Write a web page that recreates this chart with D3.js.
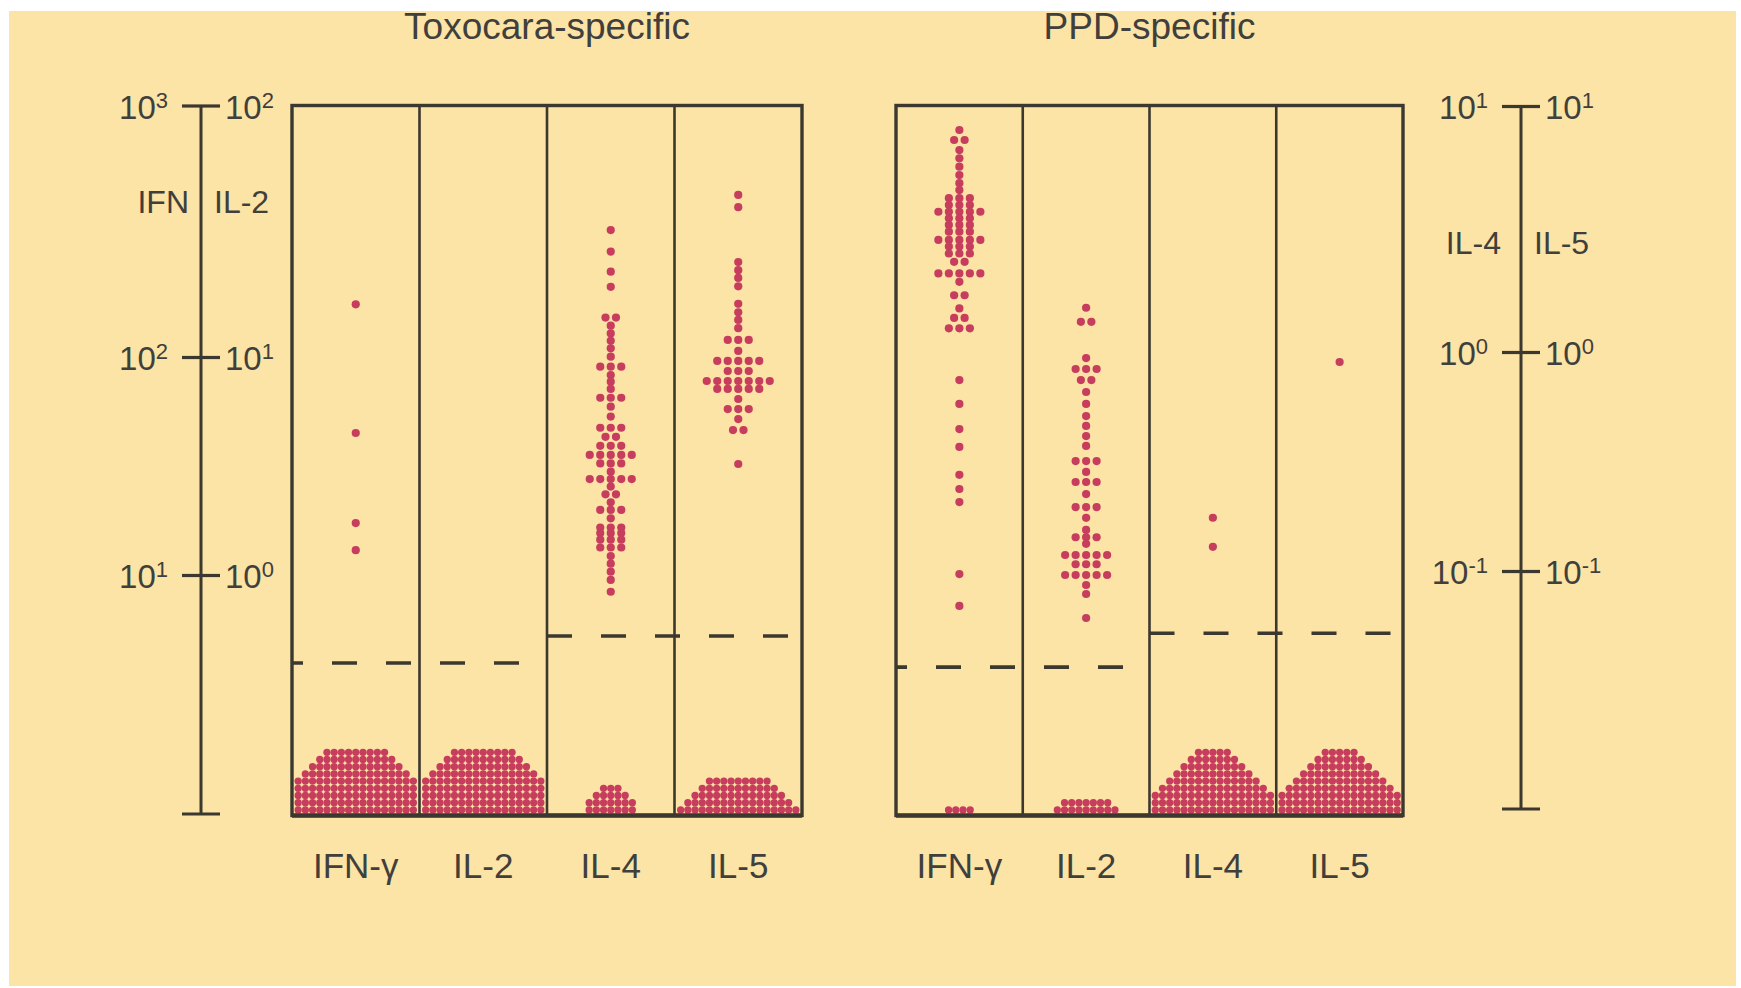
<!DOCTYPE html>
<html><head><meta charset="utf-8">
<script src="https://cdn.jsdelivr.net/npm/d3@7"></script>
<style>html,body{margin:0;padding:0;background:#fff}</style>
</head><body><svg id="chart" width="1741" height="988"></svg>
<script>
// ---------- data ----------
const cytokines = ["IFN-γ", "IL-2", "IL-4", "IL-5"];
const panelTitles = ["Toxocara-specific", "PPD-specific"];
const ifnTicks = [10, 100, 1000];
const il2Ticks = [1, 10, 100];
const il4Ticks = [0.1, 1, 10];
const il5Ticks = [0.1, 1, 10];
const leftAxisNames = ["IFN", "IL-2"];
const rightAxisNames = ["IL-4", "IL-5"];

// responders: [value, number of subjects with that value]
const toxIFN = [[162,1],[44.8,1],[17.3,1],[13.0,1]];
const toxIL2 = [];
const toxIL4 = [[3.13,1],[2.56,1],[2.12,1],[1.84,1],[1.38,2],[1.28,1],[1.19,1],[1.11,1],[1.035,1],[0.952,1],
  [0.857,3],[0.785,1],[0.732,1],[0.678,1],[0.618,3],[0.563,1],[0.507,1],[0.451,3],[0.410,2],[0.373,3],
  [0.339,5],[0.310,3],[0.284,1],[0.263,5],[0.243,1],[0.224,2],[0.206,1],[0.190,3],[0.174,1],[0.158,3],
  [0.149,3],[0.139,3],[0.128,3],[0.117,1],[0.108,1],[0.0993,1],[0.0910,1],[0.0804,1]];
const toxIL5 = [[4.35,1],[3.88,1],[2.32,1],[2.15,1],[2.00,1],[1.85,1],[1.57,1],[1.45,1],[1.35,1],[1.25,1],
  [1.12,3],[1.01,1],[0.910,5],[0.819,3],[0.737,7],[0.678,5],[0.610,1],[0.549,3],[0.494,1],[0.440,2],[0.308,1]];
const ppdIFN = [[799,1],[729,2],[665,1],[617,1],[571,1],[529,1],[491,1],[461,1],[428,3],[402,3],[378,5],
  [356,3],[335,3],[315,3],[292,5],[275,3],[258,3],[239,2],[215,5],[199,1],[176,2],[156,1],[143,2],[130,3],
  [78.4,1],[60.9,1],[46.7,1],[38.7,1],[28.8,1],[24.8,1],[21.6,1],[10.1,1],[7.21,1]];
const ppdIL2 = [[15.7,1],[13.8,2],[9.89,1],[8.81,3],[7.84,2],[6.91,1],[6.09,1],[5.36,1],[4.83,1],[4.34,1],
  [3.91,1],[3.33,3],[2.97,1],[2.67,3],[2.35,1],[2.05,3],[1.83,1],[1.61,1],[1.49,3],[1.39,1],[1.235,5],
  [1.12,3],[1.00,5],[0.90,1],[0.818,1],[0.635,1]];
const ppdIL4 = [[0.175,1],[0.129,1]];
const ppdIL5 = [[0.90,1]];

// non-responders below detection: dots per row of the pile, bottom row first
const toxIFNNon = [17,17,17,17,17,15,13,11,9];
const toxIL2Non = [17,17,17,17,17,15,13,11,9];
const toxIL4Non = [7,7,5,3];
const toxIL5Non = [17,15,13,11,9];
const ppdIFNNon = [4];
const ppdIL2Non = [9,7];
const ppdIL4Non = [17,17,17,15,13,11,9,7,5];
const ppdIL5Non = [17,17,17,15,13,11,9,7,5];

// detection limits (dashed lines)
const toxCutoffs = [3.95, 0.395, 0.0505, 0.0505];
const ppdCutoffs = [3.78, 0.378, 0.052, 0.052];

// ---------- layout ----------
const W = 1741, H = 988;
const plotTop = 105.5, plotBottom = 815.5;
const ink = "#3b382f", dotColor = "#c73d5e", textColor = "#403f3c";
const font = "'Liberation Sans', Arial, Helvetica, sans-serif";

const svg = d3.select("#chart");
svg.append("rect").attr("width", W).attr("height", H).attr("fill", "#fff");
svg.append("rect").attr("x", 9).attr("y", 11).attr("width", 1727).attr("height", 975).attr("fill", "#fce3a6");

const yIFN = d3.scaleLog().domain(ifnTicks).range([575, 357, plotTop]);
const yIL2 = d3.scaleLog().domain(il2Ticks).range([575, 357, plotTop]);
const yIL4 = d3.scaleLog().domain(il4Ticks).range([571, 352, 106]);
const yIL5 = d3.scaleLog().domain(il5Ticks).range([571, 352, 106]);
const yScales = [yIFN, yIL2, yIL4, yIL5];

const panels = [
  {title: panelTitles[0], range: [292, 802], data: [toxIFN, toxIL2, toxIL4, toxIL5],
   piles: [toxIFNNon, toxIL2Non, toxIL4Non, toxIL5Non], cut: toxCutoffs},
  {title: panelTitles[1], range: [896, 1403], data: [ppdIFN, ppdIL2, ppdIL4, ppdIL5],
   piles: [ppdIFNNon, ppdIL2Non, ppdIL4Non, ppdIL5Non], cut: ppdCutoffs}
];

const swarmGap = 10.5, swarmR = 4.1, pileGap = 7.2, pileR = 3.65;

panels.forEach(p => {
  const x = d3.scaleBand().domain(cytokines).range(p.range);
  const bw = x.bandwidth();
  const g = svg.append("g");

  g.append("text").attr("x", (p.range[0] + p.range[1]) / 2).attr("y", 39)
    .attr("text-anchor", "middle").attr("font-family", font).attr("font-size", 37)
    .attr("fill", textColor).text(p.title);

  cytokines.forEach((c, i) => {
    const cx = x(c) + bw / 2;
    const y = yScales[i];
    const pts = [];
    p.data[i].forEach(([v, n]) => {
      for (let k = 0; k < n; k++) pts.push({x: cx + (k - (n - 1) / 2) * swarmGap, y: y(v), r: swarmR});
    });
    p.piles[i].forEach((n, row) => {
      for (let k = 0; k < n; k++) pts.push({x: cx + (k - (n - 1) / 2) * pileGap, y: plotBottom - 5.6 - row * pileGap, r: pileR});
    });
    g.append("g").selectAll("circle").data(pts).join("circle")
      .attr("cx", d => d.x).attr("cy", d => d.y).attr("r", d => d.r).attr("fill", dotColor);

    g.append("text").attr("x", cx).attr("y", 878).attr("text-anchor", "middle")
      .attr("font-family", font).attr("font-size", 35).attr("fill", textColor).text(c);
  });

  // detection limit lines
  [[0, 1, 14], [2, 3, 0]].forEach(([a, b, off]) => {
    const yy = yScales[a](p.cut[a]);
    g.append("line").attr("x1", x(cytokines[a])).attr("x2", x(cytokines[b]) + bw)
      .attr("y1", yy).attr("y2", yy).attr("stroke", ink).attr("stroke-width", 3.6)
      .attr("stroke-dasharray", "25,29").attr("stroke-dashoffset", off);
  });

  // frame
  cytokines.slice(1).forEach(c => {
    g.append("line").attr("x1", x(c)).attr("x2", x(c)).attr("y1", plotTop).attr("y2", plotBottom)
      .attr("stroke", ink).attr("stroke-width", 2.6);
  });
  g.append("rect").attr("x", p.range[0]).attr("y", plotTop).attr("width", p.range[1] - p.range[0])
    .attr("height", plotBottom - plotTop).attr("fill", "none").attr("stroke", ink).attr("stroke-width", 3.4);
  g.append("line").attr("x1", p.range[0]).attr("x2", p.range[1]).attr("y1", plotBottom).attr("y2", plotBottom)
    .attr("stroke", ink).attr("stroke-width", 4.5);
});

// ---------- axes ----------
function supLabel(sel, v) {
  const e = Math.round(Math.log10(v));
  sel.append("tspan").text("10");
  sel.append("tspan").attr("dy", -11).attr("font-size", 22).text(e);
}

function drawAxis(ax, bottom, scaleL, ticksL, scaleR, ticksR, names, nameY, nameGapL, nameGapR) {
  const g = svg.append("g").attr("transform", `translate(${ax},0)`);
  g.append("g").call(d3.axisLeft(scaleL).tickValues(ticksL).tickSize(19).tickSizeOuter(0).tickFormat(""));
  g.append("g").call(d3.axisRight(scaleR).tickValues(ticksR).tickSize(19).tickSizeOuter(0).tickFormat(""));
  g.selectAll(".domain").remove();
  g.selectAll(".tick line").attr("stroke", ink).attr("stroke-width", 3.2);
  g.selectAll(".tick text").remove();
  g.append("line").attr("x1", 0).attr("x2", 0).attr("y1", plotTop).attr("y2", bottom)
    .attr("stroke", ink).attr("stroke-width", 3);
  g.append("line").attr("x1", -19).attr("x2", 19).attr("y1", bottom).attr("y2", bottom)
    .attr("stroke", ink).attr("stroke-width", 3.2);

  ticksL.forEach(v => {
    g.append("text").attr("x", -33).attr("y", scaleL(v) + 13).attr("text-anchor", "end")
      .attr("font-family", font).attr("font-size", 33).attr("fill", textColor).call(supLabel, v);
  });
  ticksR.forEach(v => {
    g.append("text").attr("x", 24).attr("y", scaleR(v) + 13).attr("text-anchor", "start")
      .attr("font-family", font).attr("font-size", 33).attr("fill", textColor).call(supLabel, v);
  });
  g.append("text").attr("x", -nameGapL).attr("y", nameY).attr("text-anchor", "end")
    .attr("font-family", font).attr("font-size", 32).attr("fill", textColor).text(names[0]);
  g.append("text").attr("x", nameGapR).attr("y", nameY).attr("text-anchor", "start")
    .attr("font-family", font).attr("font-size", 32).attr("fill", textColor).text(names[1]);
}

drawAxis(201, 814, yIFN, ifnTicks, yIL2, il2Ticks, leftAxisNames, 213, 12, 13);
drawAxis(1521, 809, yIL4, il4Ticks, yIL5, il5Ticks, rightAxisNames, 254, 20, 13);
</script>
</body></html>
